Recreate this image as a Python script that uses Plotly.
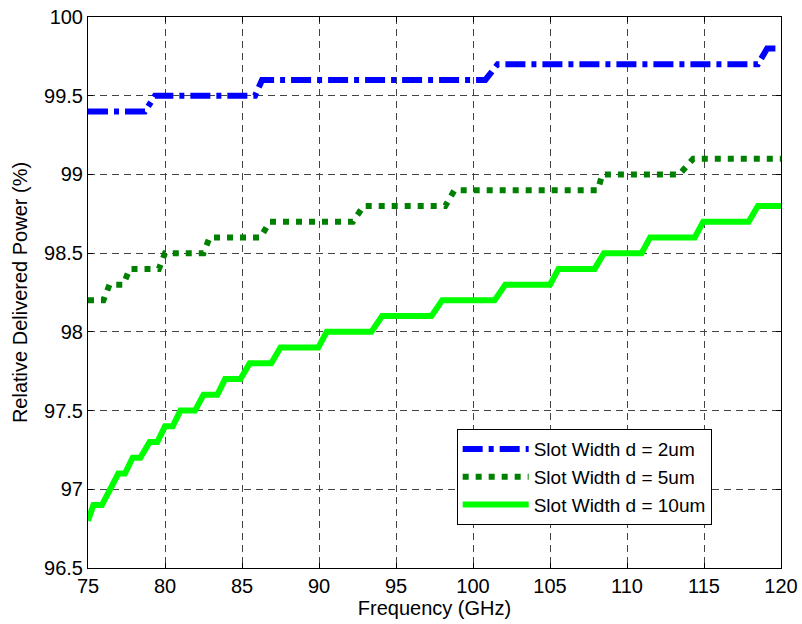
import plotly.graph_objects as go

# Vertices of each staircase curve (frequency in GHz, relative power in %)
freq_2um = [75, 78.7, 79.35, 85.85, 86.3, 100.8, 101.6, 118.5, 119.1, 120]
power_2um = [99.4, 99.4, 99.5, 99.5, 99.6, 99.6, 99.7, 99.7, 99.8, 99.8]

freq_5um = [75, 76.0, 76.4, 77.3, 77.7, 79.6, 80.0, 82.5, 82.9, 86.2, 86.8,
            92.2, 92.9, 98.2, 98.8, 108.1, 108.4, 113.4, 114.3, 120]
power_5um = [98.2, 98.2, 98.3, 98.3, 98.4, 98.4, 98.5, 98.5, 98.6, 98.6, 98.7,
             98.7, 98.8, 98.8, 98.9, 98.9, 99.0, 99.0, 99.1, 99.1]

freq_10um = [75, 75.35, 75.9, 76.97, 77.4, 77.9, 78.4, 79.0, 79.5, 80.0, 80.5,
             81.0, 81.95, 82.5, 83.4, 83.9, 84.9, 85.5, 86.9, 87.5, 89.95,
             90.5, 93.4, 94.1, 97.3, 98.0, 101.4, 102.1, 105.0, 105.55, 107.9,
             108.5, 110.95, 111.5, 114.4, 114.95, 117.9, 118.5, 120]
power_10um = [96.8, 96.9, 96.9, 97.1, 97.1, 97.2, 97.2, 97.3, 97.3, 97.4, 97.4,
              97.5, 97.5, 97.6, 97.6, 97.7, 97.7, 97.8, 97.8, 97.9, 97.9,
              98.0, 98.0, 98.1, 98.1, 98.2, 98.2, 98.3, 98.3, 98.4, 98.4,
              98.5, 98.5, 98.6, 98.6, 98.7, 98.7, 98.8, 98.8]

x_ticks = [75, 80, 85, 90, 95, 100, 105, 110, 115, 120]
y_ticks = [96.5, 97, 97.5, 98, 98.5, 99, 99.5, 100]
y_tick_text = ["96.5", "97", "97.5", "98", "98.5", "99", "99.5", "100"]

FONT = "Liberation Sans, Arial, sans-serif"

fig = go.Figure()
fig.add_trace(go.Scatter(x=freq_2um, y=power_2um, mode="lines",
                         name="Slot Width d = 2um",
                         line=dict(color="#0000FF", width=6, dash="20px,6px,5px,6px")))
fig.add_trace(go.Scatter(x=freq_5um, y=power_5um, mode="lines",
                         name="Slot Width d = 5um",
                         line=dict(color="#008000", width=6, dash="6px,7px")))
fig.add_trace(go.Scatter(x=freq_10um, y=power_10um, mode="lines",
                         name="Slot Width d = 10um",
                         line=dict(color="#00FF00", width=6)))

axis_common = dict(
    showline=True, linecolor="black", linewidth=1, mirror="ticks",
    ticks="inside", ticklen=5, tickcolor="black",
    showgrid=True, gridcolor="#444444", gridwidth=1, griddash="7px,5px",
    zeroline=False,
    tickfont=dict(family=FONT, size=20, color="black"),
)

fig.update_xaxes(range=[75, 120], tickvals=x_ticks,
                 title=dict(text="Frequency (GHz)", font=dict(family=FONT, size=20, color="black"), standoff=3),
                 **axis_common)
fig.update_yaxes(range=[96.5, 100], tickvals=y_ticks, ticktext=y_tick_text,
                 title=dict(text="Relative Delivered Power (%)", font=dict(family=FONT, size=20, color="black"), standoff=11),
                 **axis_common)

fig.update_layout(
    width=802, height=624,
    margin=dict(l=88, r=21, t=17, b=56, autoexpand=False),
    paper_bgcolor="white", plot_bgcolor="white",
    font=dict(family=FONT, size=20, color="black"),
    legend=dict(x=0.532, y=0.252, xanchor="left", yanchor="top",
                bgcolor="white", bordercolor="black", borderwidth=1,
                font=dict(family=FONT, size=19, color="black"),
                tracegroupgap=0, itemwidth=66),
    showlegend=True,
)

fig.write_html("out.html")
